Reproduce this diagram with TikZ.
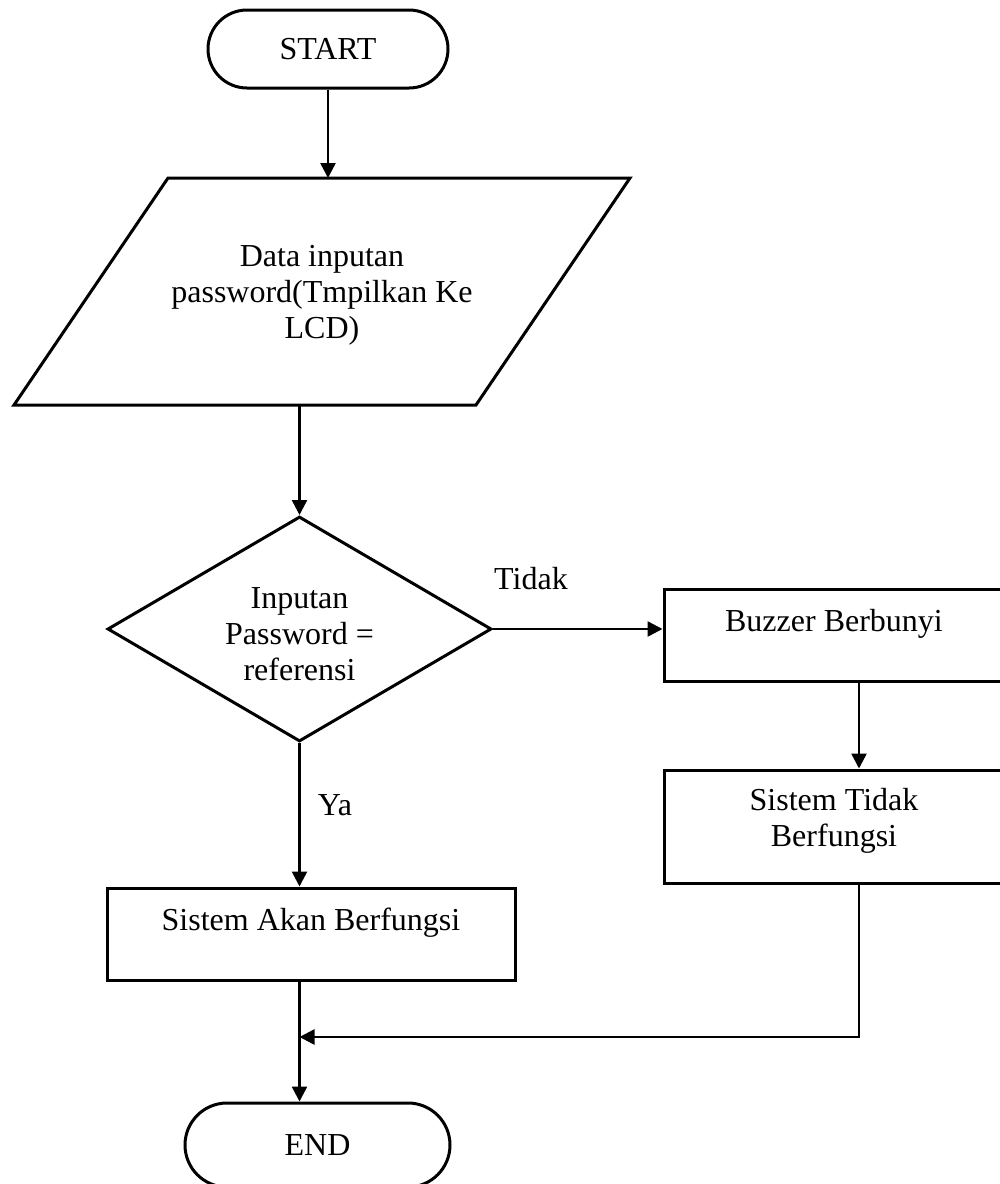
\documentclass[tikz,border=0pt]{standalone}
\usepackage{fontspec}
\setmainfont{Liberation Serif}
\usetikzlibrary{shapes.geometric,shapes.misc,arrows.meta,calc}

\begin{document}
\begin{tikzpicture}[x=0.5pt,y=-0.5pt,
  every node/.style={font=\fontsize{16}{18}\selectfont},
  shapeline/.style={draw=black,line width=1.5pt},
  procbox/.style={shapeline,rectangle,inner sep=0pt},
  terminal/.style={shapeline,rounded rectangle,inner sep=0pt},
  decision/.style={shapeline,diamond,inner sep=0pt,minimum width=192pt,minimum height=112.5pt},
  flow/.style={line width=1.25pt,-{Triangle[length=7.5pt,width=7.5pt]}},
  joint/.style={line width=1.25pt}
]
% page frame
\useasboundingbox (0,0) rectangle (1000,1184);
\fill[white] (0,0) rectangle (1000,1184);
\clip (0,0) rectangle (1000,1184);

% start terminal
\node[terminal, minimum width=120pt, minimum height=39pt] (start) at (328,49) {START};

% input / output parallelogram
\draw[shapeline] (168,178) -- (630,178) -- (476,405) -- (14,405) -- cycle;
\node[align=center] (input) at (322,295) {Data inputan\\password(Tmpilkan Ke\\LCD)};
\coordinate (inTop) at (328,178);
\coordinate (inBot) at (299.5,405);

% decision
\node[decision, label={[name=dectext,align=center,yshift=-2.5pt]center:{Inputan\\Password =\\referensi}}] (dec) at (299.5,629) {};

% right-hand branch
\node[procbox, minimum width=195pt, minimum height=46pt,
      label={[name=buzztext,xshift=-12.5pt,yshift=5.7pt]center:Buzzer Berbunyi}] (buzz) at (859,635) {};
\node[procbox, minimum width=195pt, minimum height=56.5pt,
      label={[name=stidaktext,align=center,xshift=-12.5pt,yshift=2.75pt]center:{Sistem Tidak\\Berfungsi}}] (stidak) at (859,826.5) {};

% left-hand branch
\node[procbox, minimum width=204pt, minimum height=46pt,
      label={[name=sakantext,yshift=5.7pt]center:Sistem Akan Berfungsi}] (sakan) at (311,934) {};

% end terminal
\node[terminal, minimum width=132.5pt, minimum height=42pt] (finish) at (317.5,1145) {END};

% branch labels
\node (tidak) at (531,579) {Tidak};
\node (ya) at (335,805) {Ya};

% connectors
\coordinate (merge) at (299.5,1037);
\draw[flow] (start.south) -- (inTop);
\draw[flow] (inBot) -- (dec.north);
\draw[flow] (dec.east) -- (dec.east -| buzz.west);
\draw[flow] (buzz.south) -- (stidak.north);
\draw[flow] (dec.south) -- (dec.south |- sakan.north);
\draw[joint] (dec.south |- sakan.south) -- (merge);
\draw[flow] (merge) -- (merge |- finish.north);
\draw[flow] (stidak.south) |- (merge);
\end{tikzpicture}
\end{document}
